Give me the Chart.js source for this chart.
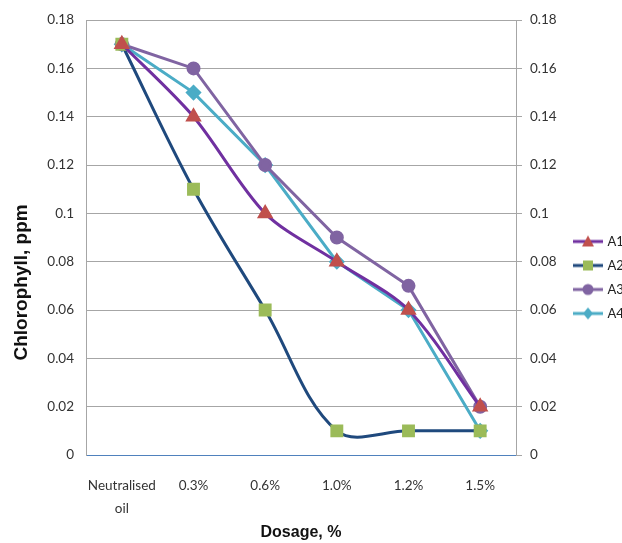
<!DOCTYPE html>
<html>
<head>
<meta charset="utf-8">
<script src="https://cdn.jsdelivr.net/npm/chart.js@4/dist/chart.umd.min.js"></script>
<style>
  html, body { margin: 0; padding: 0; background: #fff; }
  #wrap { width: 622px; height: 543px; }
</style>
</head>
<body>
<div id="wrap"><canvas id="chart" width="622" height="543"></canvas></div>
<script>
// data
const categories = [["Neutralised", "oil"], "0.3%", "0.6%", "1.0%", "1.2%", "1.5%"];
const seriesA1 = [0.17, 0.14, 0.10, 0.08, 0.06, 0.02];
const seriesA2 = [0.17, 0.11, 0.06, 0.01, 0.01, 0.01];
const seriesA3 = [0.17, 0.16, 0.12, 0.09, 0.07, 0.02];
const seriesA4 = [0.17, 0.15, 0.12, 0.08, 0.06, 0.01];
const yTicks = [0, 0.02, 0.04, 0.06, 0.08, 0.1, 0.12, 0.14, 0.16, 0.18];

const tickFont = { family: "Lato, 'Liberation Sans', sans-serif", size: 13.5 };
const titleFont = { family: "'Liberation Sans', Arial, sans-serif", size: 15, weight: "bold" };
const fmt = (v) => String(+Number(v).toFixed(2));

// legend swatch: short line with the marker on top (like the Excel legend)
function legendSwatch(lineColor, markerColor, shape) {
  const c = document.createElement("canvas");
  c.width = 30; c.height = 14;
  const g = c.getContext("2d");
  g.strokeStyle = lineColor; g.lineWidth = 3;
  g.beginPath(); g.moveTo(0, 7); g.lineTo(30, 7); g.stroke();
  g.fillStyle = markerColor;
  g.beginPath();
  if (shape === "triangle") { g.moveTo(15, 1); g.lineTo(21, 12); g.lineTo(9, 12); }
  else if (shape === "rect") { g.rect(10, 2, 10, 10); }
  else if (shape === "circle") { g.arc(15, 7, 5.5, 0, Math.PI * 2); }
  else { g.moveTo(15, 1); g.lineTo(20, 7); g.lineTo(15, 13); g.lineTo(10, 7); }
  g.closePath(); g.fill();
  return c;
}

const datasets = [
  { label: "A1", data: seriesA1, borderColor: "#7030A0", backgroundColor: "#C0504D",
    pointBackgroundColor: "#C0504D", pointBorderColor: "#C0504D", pointStyle: "triangle", pointRadius: 6.5, tension: 0.3,
    swatch: legendSwatch("#7030A0", "#C0504D", "triangle") },
  { label: "A2", data: seriesA2, borderColor: "#1F497D", backgroundColor: "#9BBB59",
    pointBackgroundColor: "#9BBB59", pointBorderColor: "#9BBB59", pointStyle: "rect", pointRadius: 7, tension: 0.35,
    swatch: legendSwatch("#1F497D", "#9BBB59", "rect") },
  { label: "A3", data: seriesA3, borderColor: "#8064A2", backgroundColor: "#8064A2",
    pointBackgroundColor: "#8064A2", pointBorderColor: "#8064A2", pointStyle: "circle", pointRadius: 5.5, tension: 0,
    swatch: legendSwatch("#8064A2", "#8064A2", "circle") },
  { label: "A4", data: seriesA4, borderColor: "#4BACC6", backgroundColor: "#4BACC6",
    pointBackgroundColor: "#4BACC6", pointBorderColor: "#4BACC6", pointStyle: "rectRot", pointRadius: 6, tension: 0,
    swatch: legendSwatch("#4BACC6", "#4BACC6", "diamond") },
].map((d) => ({ ...d, borderWidth: 3, fill: false, yAxisID: "y" }));

new Chart(document.getElementById("chart"), {
  type: "line",
  data: { labels: categories, datasets },
  options: {
    responsive: false,
    animation: false,
    layout: { padding: { top: 13, right: 0, bottom: 1, left: 6 } },
    plugins: {
      tooltip: { enabled: false },
      legend: {
        position: "right",
        maxWidth: 58,
        labels: {
          usePointStyle: true,
          pointStyleWidth: 26,
          padding: 11,
          color: "#222",
          font: { family: "Lato, 'Liberation Sans', sans-serif", size: 13 },
          generateLabels: (chart) =>
            chart.data.datasets.map((d, i) => ({
              text: d.label,
              pointStyle: d.swatch,
              fillStyle: d.borderColor,
              strokeStyle: d.borderColor,
              lineWidth: 0,
              hidden: false,
              datasetIndex: i,
              fontColor: "#222",
            })),
        },
      },
    },
    scales: {
      x: {
        offset: true,
        afterFit: (s) => { s.height = 87; },
        grid: { display: false, drawTicks: false },
        border: { color: "#4F81BD", width: 1 },
        ticks: { color: "#333", font: { ...tickFont, lineHeight: 1.7 }, padding: 19, maxRotation: 0, autoSkip: false },
        title: { display: true, text: "Dosage, %", color: "#111", font: { ...titleFont, size: 16 }, padding: { top: 0, bottom: 0 } },
      },
      y: {
        position: "left",
        min: 0, max: 0.18,
        afterBuildTicks: (s) => { s.ticks = yTicks.map((v) => ({ value: v })); },
        afterFit: (s) => { s.width = 80; },
        grid: { color: "#A6A6A6", drawTicks: false },
        border: { color: "#A6A6A6" },
        ticks: { color: "#333", font: tickFont, padding: 12, callback: fmt },
        // trailing spaces push the title a bit lower, as in the original
        title: { display: true, text: "Chlorophyll, ppm                 ", color: "#111", font: { ...titleFont, size: 19 }, padding: { bottom: 4 } },
      },
      y2: {
        position: "right",
        min: 0, max: 0.18,
        afterBuildTicks: (s) => { s.ticks = yTicks.map((v) => ({ value: v })); },
        afterFit: (s) => { s.width = 48; },
        grid: { drawOnChartArea: false, color: "#A6A6A6", tickLength: 6 },
        border: { color: "#A6A6A6" },
        ticks: { color: "#333", font: tickFont, padding: 8, callback: fmt },
      },
    },
  },
});
</script>
</body>
</html>
